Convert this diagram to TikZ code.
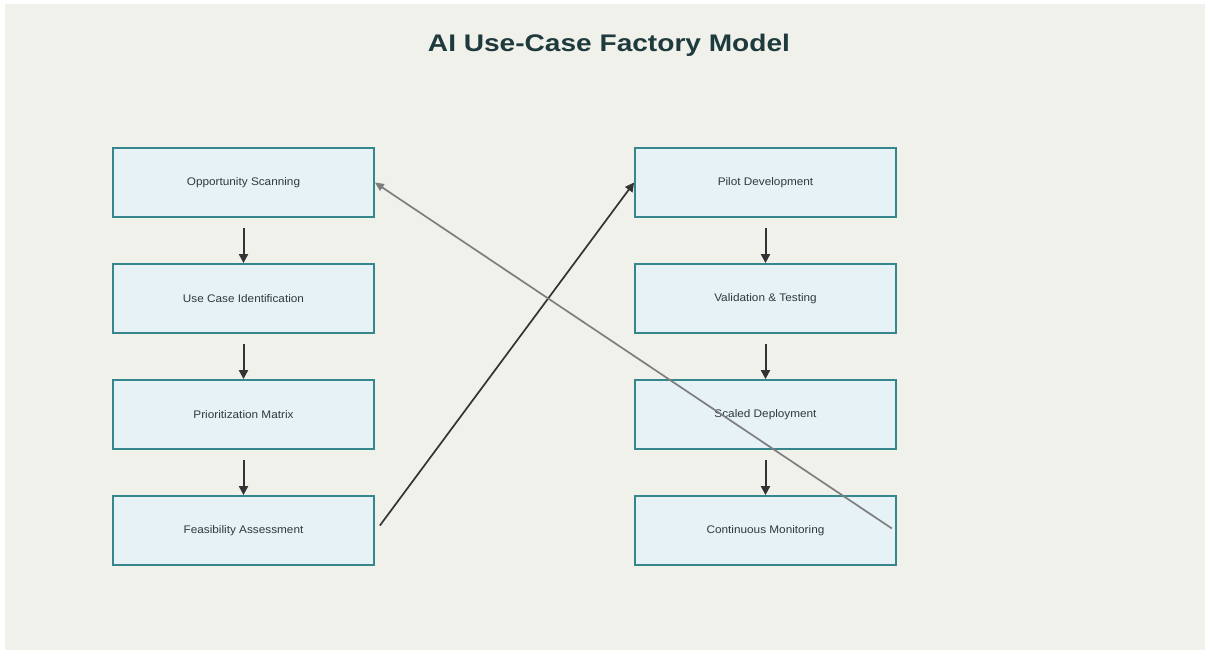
\documentclass[tikz,border=0pt]{standalone}
\usepackage{fontspec}
\setmainfont{Liberation Sans}
\newfontfamily\titlefont[FakeStretch=1.17]{Liberation Sans Bold}
\newfontfamily\stagefont[FakeStretch=1.07]{Liberation Sans}
\usetikzlibrary{arrows.meta}
\definecolor{pagebg}{HTML}{F1F1EC}
\definecolor{boxfill}{HTML}{E6F2F5}
\definecolor{boxedge}{HTML}{35878C}
\definecolor{titleink}{HTML}{1E3A3C}
\definecolor{textink}{HTML}{2C3B3E}
\definecolor{flowink}{HTML}{333333}
\definecolor{loopink}{HTML}{7E7E7E}
\tikzset{
  stage/.style={draw=boxedge, line width=1.8pt, fill=boxfill, minimum width=261pt,
    minimum height=69pt, inner sep=0pt, text=textink, font=\stagefont\fontsize{11}{13}\selectfont},
  flow/.style={draw=flowink, line width=2pt, -{Triangle[length=9pt,width=9pt]}},
  loop/.style={draw=loopink, line width=1.7pt, -{Triangle[length=9pt,width=8pt]}}
}
\begin{document}
\begin{tikzpicture}[x=1pt,y=-1pt]
  \useasboundingbox (0,0) rectangle (1205,650);
  \fill[white] (0,0) rectangle (1205,650);
  \fill[pagebg] (5,4) rectangle (1205,650);

  \node[text=titleink, font=\titlefont\fontsize{24}{28}\selectfont] (title) at (609,45) {AI Use-Case Factory Model};

  % left column: discovery stages
  \node[stage] (scan) at (243.5,182.5) {Opportunity Scanning};
  \node[stage] (ident) at (243.5,298.5) {Use Case Identification};
  \node[stage] (prio) at (243.5,414.5) {Prioritization Matrix};
  \node[stage] (feas) at (243.5,530.5) {Feasibility Assessment};

  % right column: delivery stages
  \node[stage] (pilot) at (765.5,182.5) {Pilot Development};
  \node[stage] (valid) at (765.5,298.5) {Validation \& Testing};
  \node[stage] (scale) at (765.5,414.5) {Scaled Deployment};
  \node[stage] (monit) at (765.5,530.5) {Continuous Monitoring};

  % vertical flow within each column
  \foreach \a/\b in {scan/ident, ident/prio, prio/feas, pilot/valid, valid/scale, scale/monit}
    \draw[flow, shorten <=10pt] (\a.south) -- (\b.north);

  % hand-over from discovery to delivery
  \coordinate (feasout) at ([xshift=5pt,yshift=5pt]feas.east);
  \draw[flow, line width=1.7pt] (feasout) -- (pilot.west);

  % feedback from monitoring back to scanning
  \coordinate (monitout) at ([xshift=-5pt,yshift=2pt]monit.east);
  \draw[loop] (monitout) -- (scan.east);
\end{tikzpicture}
\end{document}
